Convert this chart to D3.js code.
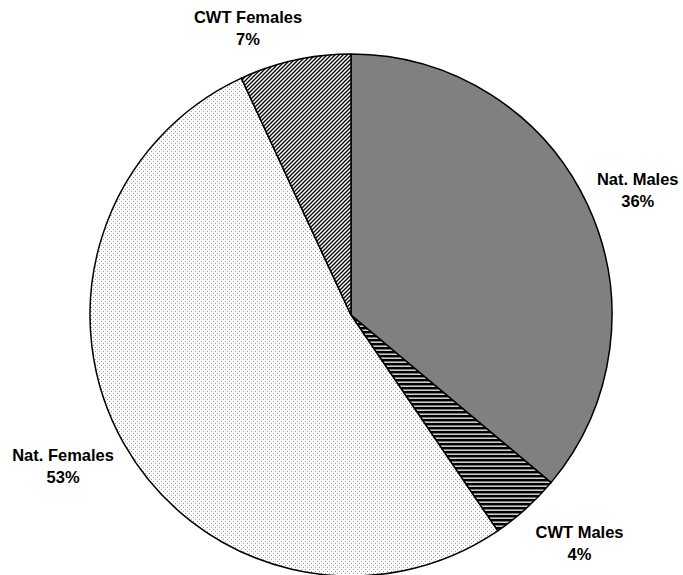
<!DOCTYPE html>
<html>
<head>
<meta charset="utf-8">
<script src="https://cdn.jsdelivr.net/npm/d3@7"></script>
<style>
  body { margin: 0; background: #fff; }
  .label { font-family: "Liberation Sans", Arial, sans-serif; font-weight: bold; font-size: 16.5px; fill: #000; }
</style>
</head>
<body>
<div id="main"></div>
<script>
// dados (sentido horário a partir das 12h)
const categories = ['Nat. Males', 'CWT Males', 'Nat. Females', 'CWT Females'];
const values = [36.1, 4.4, 52.6, 6.9];
const fills = ['#808080', 'url(#hstripe)', 'url(#dots)', 'url(#diag)'];

const width = 683, height = 575;
const cx = 351, cy = 315, radius = 261;
const gap = 10;
// ajuste fino da posição dos rótulos (layout)
const labelShift = [[0, 9], [17, -6], [-5, -9], [-38, 8]];

const svg = d3.select('#main')
  .append('svg')
  .attr('width', width)
  .attr('height', height);

const defs = svg.append('defs');

// listras horizontais
const hs = defs.append('pattern')
  .attr('id', 'hstripe')
  .attr('patternUnits', 'userSpaceOnUse')
  .attr('width', 4).attr('height', 4);
hs.append('rect').attr('width', 4).attr('height', 4).attr('fill', '#ccc');
hs.append('rect').attr('width', 4).attr('height', 2).attr('fill', '#000');
hs.append('rect').attr('y', 2).attr('width', 4).attr('height', 1).attr('fill', '#777');

// pontinhos
const dots = defs.append('pattern')
  .attr('id', 'dots')
  .attr('patternUnits', 'userSpaceOnUse')
  .attr('width', 4).attr('height', 4);
dots.append('rect').attr('width', 4).attr('height', 4).attr('fill', '#fff');
dots.append('rect').attr('x', 0).attr('y', 0).attr('width', 1).attr('height', 1).attr('fill', '#999');
dots.append('rect').attr('x', 2).attr('y', 2).attr('width', 1).attr('height', 1).attr('fill', '#999');

// diagonais
const dg = defs.append('pattern')
  .attr('id', 'diag')
  .attr('patternUnits', 'userSpaceOnUse')
  .attr('width', 4).attr('height', 4);
dg.append('rect').attr('width', 4).attr('height', 4).attr('fill', '#fff');
dg.append('path')
  .attr('d', 'M-1,1 l2,-2 M0,4 l4,-4 M3,5 l2,-2')
  .attr('stroke', '#000')
  .attr('stroke-width', 1.3);

const data = categories.map((c, i) => ({ name: c, value: values[i], fill: fills[i], shift: labelShift[i] }));

const pie = d3.pie().sort(null).value(d => d.value);
const arc = d3.arc().innerRadius(0).outerRadius(radius);
const arcs = pie(data);

const g = svg.append('g').attr('transform', `translate(${cx},${cy})`);

g.selectAll('path')
  .data(arcs)
  .join('path')
    .attr('d', arc)
    .attr('fill', d => d.data.fill)
    .attr('stroke', '#000')
    .attr('stroke-width', 1.5)
    .attr('stroke-linejoin', 'round');

// rótulos fora da pizza
const lineH = 22;
const labels = g.selectAll('g.lbl')
  .data(arcs)
  .join('g')
    .attr('class', 'lbl');

labels.each(function(d) {
  const el = d3.select(this);
  const t = el.append('text').attr('class', 'label').attr('text-anchor', 'middle');
  t.append('tspan').attr('x', 0).attr('y', 0).text(d.data.name);
  t.append('tspan').attr('x', 0).attr('y', lineH).text(Math.round(d.data.value) + '%');
  const bb = t.node().getBBox();
  const mid = (d.startAngle + d.endAngle) / 2;
  const ux = Math.sin(mid), uy = -Math.cos(mid);
  const ext = Math.abs(ux) * bb.width / 2 + Math.abs(uy) * bb.height / 2;
  const dist = radius + gap + ext;
  const bx = ux * dist + d.data.shift[0];
  const by = uy * dist + d.data.shift[1];
  // centraliza a caixa do texto no ponto
  el.attr('transform', `translate(${bx},${by - (bb.y + bb.height / 2)})`);
});
</script>
</body>
</html>
